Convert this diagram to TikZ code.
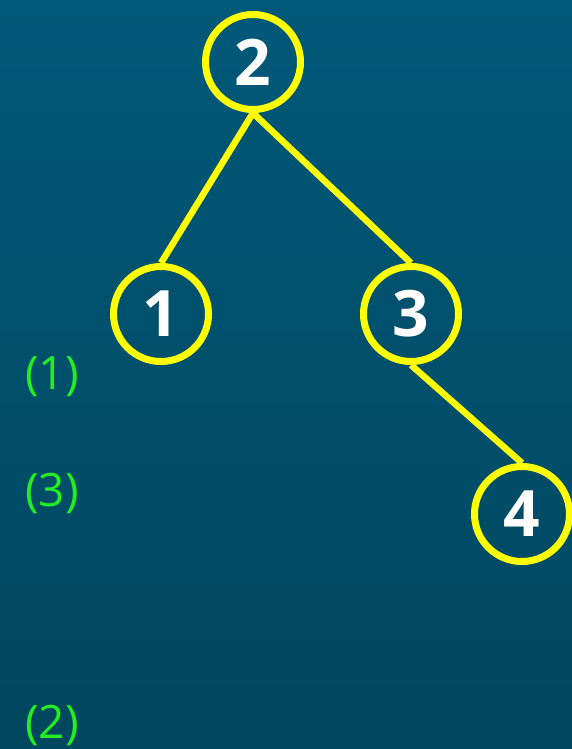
\documentclass[tikz,border=0pt]{standalone}
\usepackage{fontspec}
\setmainfont{Open Sans}
\definecolor{bgA}{HTML}{005878}
\definecolor{bgB}{HTML}{00475F}
\definecolor{ylw}{HTML}{FFFF00}
\definecolor{grn}{HTML}{22EE22}
\begin{document}
\begin{tikzpicture}[x=1pt,y=-1pt,
  vtx/.style={circle,draw=ylw,line width=7pt,minimum size=95pt,inner sep=0pt,text=white,font=\fontsize{64}{64}\selectfont\bfseries},
  edge/.style={draw=ylw,line width=6.5pt},
  lbl/.style={text=grn,font=\fontsize{46}{46}\selectfont,inner sep=0pt}]
\shade[top color=bgA,bottom color=bgB] (0,0) rectangle (572,749);
\useasboundingbox (0,0) rectangle (572,749);
\node[vtx] (n2) at (253,62) {2};
\node[vtx] (n1) at (161,314) {1};
\node[vtx] (n3) at (411,314) {3};
\node[vtx] (n4) at (522,514) {4};
\draw[edge] (n2.south) -- (n1.north);
\draw[edge] (n2.south) -- (n3.north);
\draw[edge] (n3.south) -- (n4.north);
\node[lbl] (l1) at (52,377) {(1)};
\node[lbl] (l3) at (52,493) {(3)};
\node[lbl] (l2) at (52,725) {(2)};
\end{tikzpicture}
\end{document}
